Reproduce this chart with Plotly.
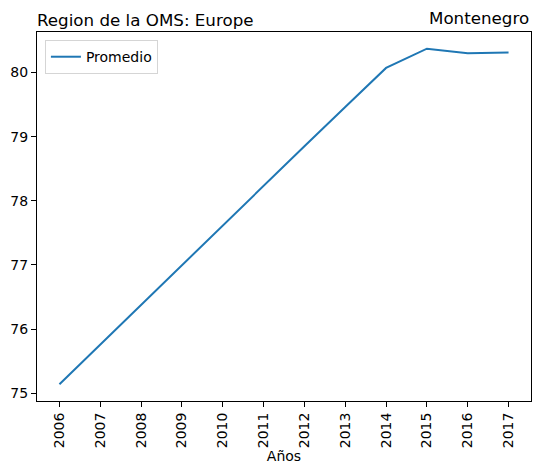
import plotly.graph_objects as go

years = [2006, 2007, 2008, 2009, 2010, 2011, 2012, 2013, 2014, 2015, 2016, 2017]
promedio = [75.14, 75.76, 76.38, 77.00, 77.61, 78.23, 78.85, 79.46, 80.07, 80.37, 80.30, 80.31]
year_labels = [str(y) for y in years]

font = "DejaVu Sans"

fig = go.Figure()
fig.add_trace(go.Scatter(x=years, y=promedio, mode="lines", name="Promedio",
                         line=dict(color="#1f77b4", width=2)))

axis_style = dict(showline=True, linecolor="black", linewidth=1, mirror=True,
                  ticks="outside", ticklen=5, tickcolor="black", showgrid=False,
                  zeroline=False, automargin=False,
                  tickfont=dict(family=font, size=14, color="black"))

fig.update_xaxes(tickvals=years, ticktext=year_labels, tickangle=-90,
                 range=[2005.45, 2017.55],
                 title=dict(text="Años", font=dict(family=font, size=14, color="black"),
                            standoff=2),
                 **axis_style)
fig.update_yaxes(tickvals=[75, 76, 77, 78, 79, 80], range=[74.88, 80.63], **axis_style)

title_font = dict(family=font, size=16.7, color="black")

# page body adds 8px offset, so margins are shifted accordingly
fig.update_layout(
    width=543, height=476,
    margin=dict(l=29, r=20, t=24, b=83),
    paper_bgcolor="white", plot_bgcolor="white",
    font=dict(family=font, color="black"),
    showlegend=True,
    title=dict(text="Region de la OMS: Europe", x=0, xref="paper", xanchor="left",
               y=1, yref="paper", yanchor="bottom", pad=dict(b=6, l=0),
               font=title_font),
    legend=dict(x=0.016, y=0.978, xanchor="left", yanchor="top",
                bordercolor="#d5d5d5", borderwidth=1, bgcolor="white",
                itemwidth=30, font=dict(family=font, size=14)),
    annotations=[
        dict(text="Montenegro", xref="paper", yref="paper", x=1, y=1,
             xanchor="right", yanchor="bottom", align="right", yshift=2, showarrow=False,
             font=title_font),
    ],
)

fig.write_html("out.html")
